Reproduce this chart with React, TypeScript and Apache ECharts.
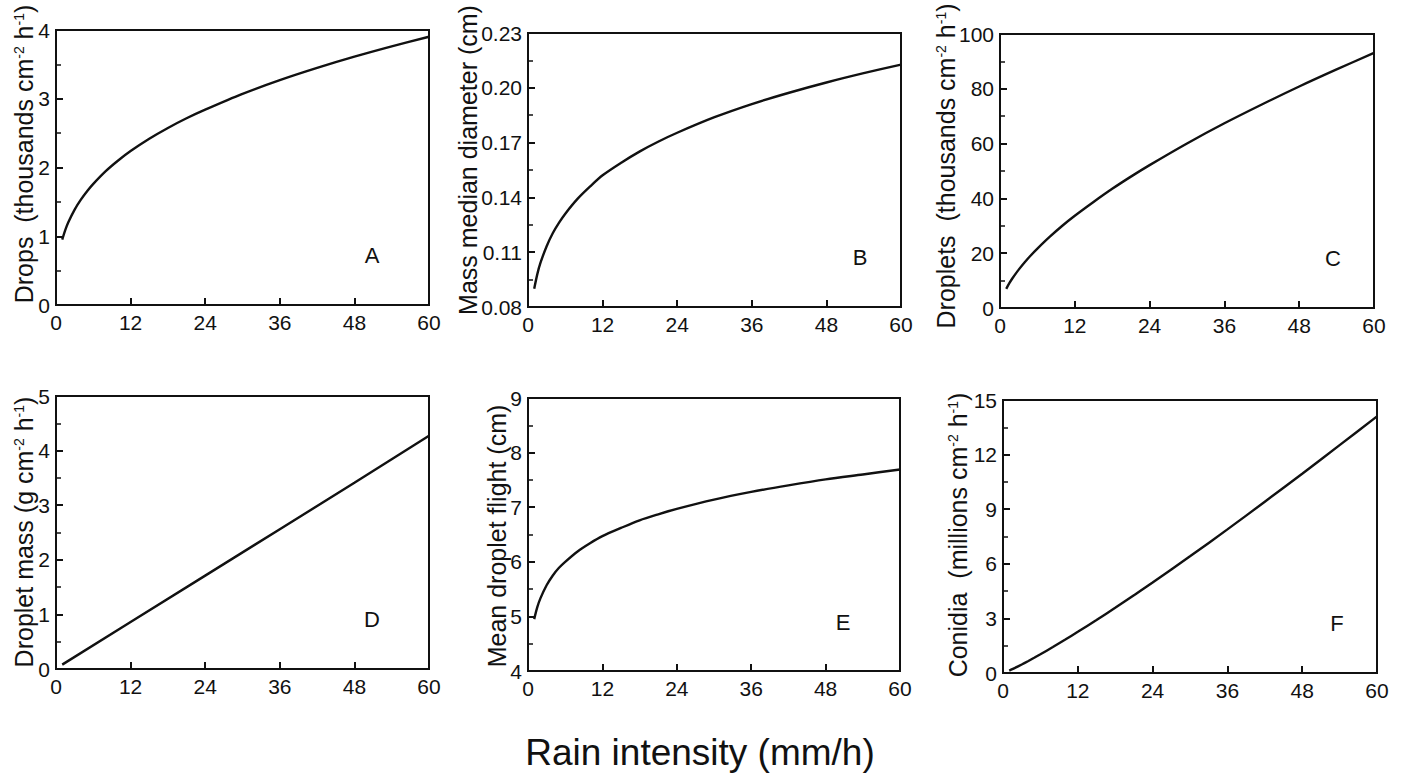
import React, { useEffect, useRef } from "react";
import * as echarts from "echarts";

// Rain intensity (mm/h) sample points
const rain = [1, 1.5, 2, 3, 4, 5, 6, 8, 10, 12, 15, 18, 21, 24, 30, 36, 42, 48, 54, 60];
const rainD = [1, 12, 24, 36, 48, 60];

// A: Drops (thousands cm-2 h-1)
const drops = [0.95, 1.093, 1.207, 1.388, 1.532, 1.655, 1.762, 1.947, 2.102, 2.239, 2.418, 2.575, 2.716, 2.841, 3.071, 3.271, 3.449, 3.612, 3.762, 3.902];
// B: Mass median diameter (cm)
const diameter = [0.09, 0.098, 0.1041, 0.1133, 0.1205, 0.1262, 0.1311, 0.1393, 0.146, 0.1521, 0.159, 0.1652, 0.1706, 0.1754, 0.1839, 0.1911, 0.1973, 0.2029, 0.208, 0.2127];
// C: Droplets (thousands cm-2 h-1)
const droplets = [7.0, 9.04, 10.85, 14.0, 16.8, 19.36, 21.7, 26.04, 30.03, 33.67, 38.7, 43.5, 47.95, 52.15, 60.06, 67.41, 74.27, 80.85, 87.08, 93.1];
// D: Droplet mass (g cm-2 h-1)
const dropletMass = [0.08, 0.86, 1.71, 2.56, 3.41, 4.27];
// E: Mean droplet flight (cm)
const flight = [4.95, 5.17, 5.33, 5.57, 5.75, 5.89, 6.0, 6.19, 6.34, 6.47, 6.62, 6.76, 6.87, 6.97, 7.14, 7.28, 7.4, 7.51, 7.6, 7.69];
// F: Conidia (millions cm-2 h-1)
const conidia = [0.134, 0.212, 0.294, 0.467, 0.647, 0.834, 1.027, 1.425, 1.837, 2.261, 2.91, 3.58, 4.27, 4.97, 6.41, 7.89, 9.41, 10.95, 12.52, 14.1];

const xTicks = { min: 0, max: 60, interval: 12 };
const panelLetters = ["A", "B", "C", "D", "E", "F"];
const yNames = [
  "{n|Drops  (thousands cm}{s|-2}{n| h}{s|-1}{n|)}",
  "{n|Mass median diameter (cm)}",
  "{n|Droplets  (thousands cm}{s|-2}{n| h}{s|-1}{n|)}",
  "{n|Droplet mass (g cm}{s|-2}{n| h}{s|-1}{n|)}",
  "{n|Mean droplet flight (cm)}",
  "{n|Conidia  (millions cm}{s|-2}{n| h}{s|-1}{n|)}",
];
const xTitle = "Rain intensity (mm/h)";

const FONT = "'Liberation Sans', Arial, Helvetica, sans-serif";
const INK = "#111111";

export default function App() {
  const ref = useRef<HTMLDivElement>(null);

  useEffect(() => {
    if (!ref.current) return;
    const chart = echarts.init(ref.current, null, { renderer: "svg" });

    const grids = [
      { left: 56, top: 30, width: 373, height: 275 },
      { left: 528, top: 33, width: 373, height: 274 },
      { left: 1000, top: 34, width: 374, height: 274 },
      { left: 56, top: 396, width: 373, height: 273 },
      { left: 528, top: 398, width: 372, height: 273 },
      { left: 1003, top: 400, width: 374, height: 273 },
    ];

    const yDefs = [
      { min: 0, max: 4, interval: 1, fmt: (v: number) => String(v) },
      { min: 0.08, max: 0.23, interval: 0.03, fmt: (v: number) => v.toFixed(2) },
      { min: 0, max: 100, interval: 20, fmt: (v: number) => String(v) },
      { min: 0, max: 5, interval: 1, fmt: (v: number) => String(v) },
      { min: 4, max: 9, interval: 1, fmt: (v: number) => String(v) },
      { min: 0, max: 15, interval: 3, fmt: (v: number) => String(v) },
    ];

    const seriesData = [
      rain.map((x, i) => [x, drops[i]]),
      rain.map((x, i) => [x, diameter[i]]),
      rain.map((x, i) => [x, droplets[i]]),
      rainD.map((x, i) => [x, dropletMass[i]]),
      rain.map((x, i) => [x, flight[i]]),
      rain.map((x, i) => [x, conidia[i]]),
    ];

    const letterPos = [
      [372, 255], [860, 257], [1333, 258], [372, 619], [843, 622], [1337, 623],
    ];
    const namePos = [
      [24, 154], [468, 160], [946, 166], [24, 532], [497, 536], [958, 535],
    ];

    const nameRich = {
      n: { fontSize: 25, fontFamily: FONT, fill: INK, color: INK },
      s: { fontSize: 14, fontFamily: FONT, fill: INK, color: INK, verticalAlign: "top" },
    };

    const axisLine = { show: true, lineStyle: { color: INK, width: 2 } };

    const option: any = {
      animation: false,
      backgroundColor: "#ffffff",
      grid: grids.map((g) => ({
        ...g,
        show: true,
        borderColor: INK,
        borderWidth: 2,
        backgroundColor: "transparent",
        containLabel: false,
      })),
      xAxis: grids.map((_, i) => ({
        type: "value",
        gridIndex: i,
        min: xTicks.min,
        max: xTicks.max,
        interval: xTicks.interval,
        axisLine,
        axisTick: { show: true, inside: true, length: 7, lineStyle: { color: INK, width: 2 } },
        splitLine: { show: false },
        axisLabel: { color: INK, fontSize: 21, fontFamily: FONT, margin: 7 },
      })),
      yAxis: yDefs.map((d, i) => ({
        type: "value",
        gridIndex: i,
        min: d.min,
        max: d.max,
        interval: d.interval,
        axisLine,
        axisTick: { show: true, inside: true, length: 7, lineStyle: { color: INK, width: 2 } },
        minorTick: { show: true, splitNumber: 2, length: 5, lineStyle: { color: INK, width: 1.5 } },
        splitLine: { show: false },
        minorSplitLine: { show: false },
        axisLabel: { color: INK, fontSize: 21, fontFamily: FONT, margin: 6, formatter: d.fmt },
      })),
      series: seriesData.map((data, i) => ({
        type: "line",
        xAxisIndex: i,
        yAxisIndex: i,
        data,
        showSymbol: false,
        smooth: i === 3 ? false : 0.3,
        lineStyle: { color: INK, width: 2.4 },
        silent: true,
      })),
      graphic: [
        ...yNames.map((t, i) => ({
          type: "text",
          x: namePos[i][0],
          y: namePos[i][1],
          rotation: Math.PI / 2,
          style: {
            text: t,
            rich: nameRich,
            fontSize: 25,
            fontFamily: FONT,
            fill: INK,
            align: "center",
            verticalAlign: "middle",
          },
        })),
        ...panelLetters.map((t, i) => ({
          type: "text",
          x: letterPos[i][0],
          y: letterPos[i][1],
          style: {
            text: t,
            fontSize: 22,
            fontFamily: FONT,
            fill: INK,
            align: "center",
            verticalAlign: "middle",
          },
        })),
        {
          type: "text",
          x: 700,
          y: 752,
          style: {
            text: xTitle,
            fontSize: 37,
            fontFamily: FONT,
            fill: INK,
            align: "center",
            verticalAlign: "middle",
          },
        },
      ],
    };

    chart.setOption(option);
    return () => chart.dispose();
  }, []);

  return (
    <div
      ref={ref}
      style={{ position: "fixed", left: 0, top: 0, width: 1402, height: 784, background: "#fff" }}
    />
  );
}
